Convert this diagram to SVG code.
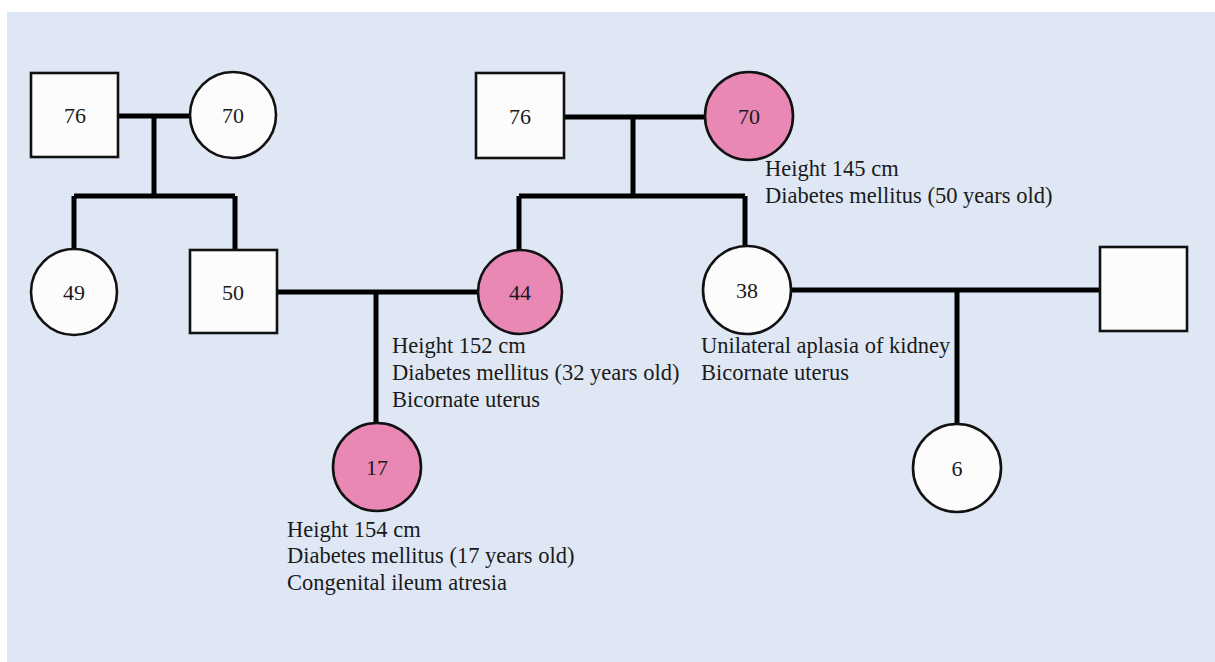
<svg xmlns="http://www.w3.org/2000/svg" width="1215" height="662" viewBox="0 0 1215 662">
<style>
.bg{fill:#dfe7f4}
.n{stroke:#111;stroke-width:2.6;fill:#fdfcfd}
.a{stroke:#111;stroke-width:2.6;fill:#e987b5}
.c{stroke:#000;stroke-width:5;fill:none;stroke-linecap:butt}
.num{font-family:"Liberation Serif","Times New Roman",serif;font-size:22px;fill:#1a1a1a;text-anchor:middle}
.lbl{font-family:"Liberation Serif","Times New Roman",serif;font-size:22.5px;fill:#1a1a1a}
</style>
<rect x="0" y="0" width="1215" height="662" fill="#ffffff"/>
<rect class="bg" x="7" y="12" width="1208" height="650"/>
<g id="connectors">
<path class="c" d="M118 116H190M154 116V196M74 196H235M74 196V249M235 196V250"/>
<path class="c" d="M564 117H705M633 117V196M519 196H745M519 196V250M745 196V246"/>
<path class="c" d="M277 292H478M376 292V424"/>
<path class="c" d="M791 290H1100M957 290V425"/>
</g>
<g id="gf1"><rect class="n" x="31" y="73" width="87" height="84"/><text class="num" x="75" y="123">76</text></g>
<g id="gm1"><circle class="n" cx="233" cy="115" r="43"/><text class="num" x="233" y="123">70</text></g>
<g id="gf2"><rect class="n" x="476" y="73" width="88" height="85"/><text class="num" x="520" y="124">76</text></g>
<g id="gm2"><circle class="a" cx="749" cy="116" r="44"/><text class="num" x="749" y="124">70</text>
<text class="lbl" x="765" y="176">Height 145 cm</text><text class="lbl" x="765" y="203">Diabetes mellitus (50 years old)</text></g>
<g id="aunt49"><circle class="n" cx="74" cy="292" r="43"/><text class="num" x="74" y="300">49</text></g>
<g id="father50"><rect class="n" x="190" y="250" width="87" height="83"/><text class="num" x="233" y="300">50</text></g>
<g id="mother44"><circle class="a" cx="520" cy="292" r="42"/><text class="num" x="520" y="300">44</text>
<text class="lbl" x="392" y="353">Height 152 cm</text><text class="lbl" x="392" y="380">Diabetes mellitus (32 years old)</text><text class="lbl" x="392" y="407">Bicornate uterus</text></g>
<g id="aunt38"><circle class="n" cx="747" cy="290" r="44"/><text class="num" x="747" y="298">38</text>
<text class="lbl" x="701" y="353">Unilateral aplasia of kidney</text><text class="lbl" x="701" y="380">Bicornate uterus</text></g>
<g id="uncle"><rect class="n" x="1100" y="247" width="87" height="84"/></g>
<g id="proband17"><circle class="a" cx="377" cy="467" r="44"/><text class="num" x="377" y="475">17</text>
<text class="lbl" x="287" y="537">Height 154 cm</text><text class="lbl" x="287" y="563">Diabetes mellitus (17 years old)</text><text class="lbl" x="287" y="590">Congenital ileum atresia</text></g>
<g id="cousin6"><circle class="n" cx="957" cy="468" r="44"/><text class="num" x="957" y="476">6</text></g>
</svg>
